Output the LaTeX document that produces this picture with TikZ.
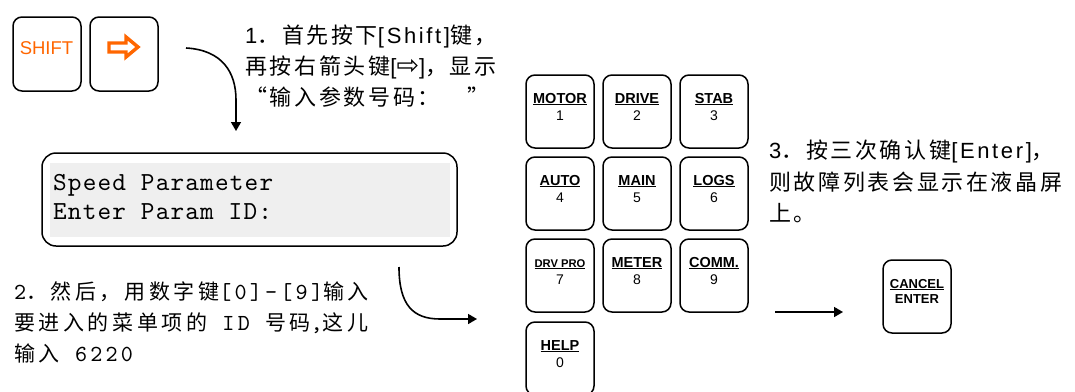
\documentclass[tikz,border=0pt]{standalone}
\usepackage{fontspec}
\setmainfont{Liberation Sans}
\newfontfamily\cjkA[LetterSpace=12]{Noto Sans CJK SC}
\newfontfamily\cjkB[LetterSpace=17]{Noto Sans CJK SC}
\newfontfamily\arA[LetterSpace=12]{Liberation Sans}
\newfontfamily\symfont{DejaVu Sans}
\newfontfamily\lcdfont[LetterSpace=4.5]{lmmono10-regular.otf}
\newfontfamily\ttBf[LetterSpace=14]{lmmono10-regular.otf}
\usetikzlibrary{arrows.meta}
\definecolor{keyorange}{HTML}{FF6600}
\definecolor{lcdgray}{HTML}{EFEFEF}
\newcommand\kul[1]{\setbox0\hbox{#1}\vtop{\box0\kern1pt\hrule height1.3pt}}
\newcommand\ttB{\ttBf\fontsize{23}{26}\selectfont}
\tikzset{
  keybox/.style={draw, line width=1.5pt, rounded corners=9pt, minimum width=68pt, minimum height=73pt, inner sep=0pt},
  klab/.style={inner sep=0pt, anchor=base},
  knum/.style={inner sep=0pt, anchor=base, font=\fontsize{14}{16}\selectfont},
  conn/.style={line width=1.6pt, -{Triangle[length=9pt,width=10pt]}},
  steptxt/.style={inner sep=0pt, anchor=base west, font=\fontsize{22}{26}\selectfont},
  steptwo/.style={inner sep=0pt, anchor=base west, font=\fontsize{21}{26}\selectfont},
  lcdtext/.style={inner sep=0pt, anchor=base west, font=\lcdfont\fontsize{26}{30}\selectfont}
}
\begin{document}
\begin{tikzpicture}[x=1pt,y=-1pt]
\useasboundingbox (0,0) rectangle (1075,391);
\fill[white] (0,0) rectangle (1075,391);
\clip (0,0) rectangle (1075,391);

% SHIFT and arrow keys
\node[keybox, minimum height=74pt] (shift) at (47,54) {};
\node[inner sep=0pt, text=keyorange, font=\fontsize{18.5}{20}\selectfont] (shiftlab) at (46.5,48) {SHIFT};
\node[keybox, minimum height=74pt] (rarrow) at (124,54) {};
\draw[keyorange, line width=3.4pt, line join=miter]
  (109,43) -- (126,43) -- (126,37) -- (138,47) -- (126,57) -- (126,52) -- (109,52) -- cycle;

% step 1 text
\node[steptxt] (s1a) at (245,43) {{\arA 1}{\cjkA ．首先按下}{\arA [Shift]}{\cjkA 键，}};
\node[steptxt] (s1b) at (245,74) {{\cjkA 再按右箭头键}{\arA [}{\symfont\fontsize{27}{30}\selectfont ⇨}{\arA ]}{\cjkA ，显示}};
\node[steptxt] (s1c) at (245,105) {{\cjkA “输入参数号码：}\hspace{28pt}{\cjkA ”}};

% arrow 1
\coordinate (a1s) at (186,48);
\coordinate (a1e) at (236,131);
\draw[conn] (a1s) .. controls (222,50) and (236,72) .. (236,100) -- (a1e);

% LCD
\fill[lcdgray] (50,163) rectangle (450,237);
\node[draw, line width=1.5pt, rounded corners=14pt, minimum width=415pt, minimum height=93pt, inner sep=0pt] (lcd) at (249.5,199.5) {};
\node[lcdtext] (lcd1) at (53,190) {Speed Parameter};
\node[lcdtext] (lcd2) at (53,219) {Enter Param ID:};

% step 2 text
\node[steptwo] (s2a) at (14,299) {{\ttB 2}{\cjkB ．然后，用数字键}{\ttB [0]-[9]}{\cjkB 输入}};
\node[steptwo] (s2b) at (14,330) {{\cjkB 要进入的菜单项的}{\ttB\ ID\ }{\cjkB 号码}{\ttB ,}{\cjkB 这儿}};
\node[steptwo] (s2c) at (14,361) {{\cjkB 输入}{\ttB\ 6220}};

% arrow 2
\coordinate (a2s) at (399,267);
\coordinate (a2e) at (477,319);
\draw[conn] (a2s) .. controls (399,305) and (413,319) .. (440,319) -- (a2e);

% keypad
\foreach \n/\lab/\num/\cx/\ty/\sz in {
  k1/MOTOR/1/560/75/14.5, k2/DRIVE/2/637/75/14.5, k3/STAB/3/714/75/14.5,
  k4/AUTO/4/560/157/14.5, k5/MAIN/5/637/157/14.5, k6/LOGS/6/714/157/14.5,
  k7/DRV PRO/7/560/239/11.2, k8/METER/8/637/239/14.5, k9/COMM./9/714/239/14.5,
  k0/HELP/0/560/322/14.5} {
  \node[keybox] (\n) at (\cx,\ty+36.5) {};
  \node[klab, font=\bfseries\fontsize{\sz}{16}\selectfont] (\n-l) at (\cx,\ty+28) {\kul{\lab}};
  \node[knum] (\n-n) at (\cx,\ty+45) {\num};
}

% step 3 text
\node[steptxt] (s3a) at (769,158) {{\arA 3}{\cjkA ．按三次确认键}{\arA [Enter]}{\cjkA ，}};
\node[steptxt] (s3b) at (769,190) {{\cjkA 则故障列表会显示在液晶屏}};
\node[steptxt] (s3c) at (769,221) {{\cjkA 上。}};

% arrow 3
\coordinate (a3s) at (775,312);
\coordinate (a3e) at (843,312);
\draw[conn] (a3s) -- (a3e);

% cancel/enter key
\node[keybox] (ce) at (917,296.5) {};
\node[klab, font=\bfseries\fontsize{13}{15}\selectfont] (ce-l) at (917,288) {\kul{CANCEL}};
\node[klab, font=\bfseries\fontsize{13}{15}\selectfont] (ce-n) at (917,303) {ENTER};
\end{tikzpicture}
\end{document}
